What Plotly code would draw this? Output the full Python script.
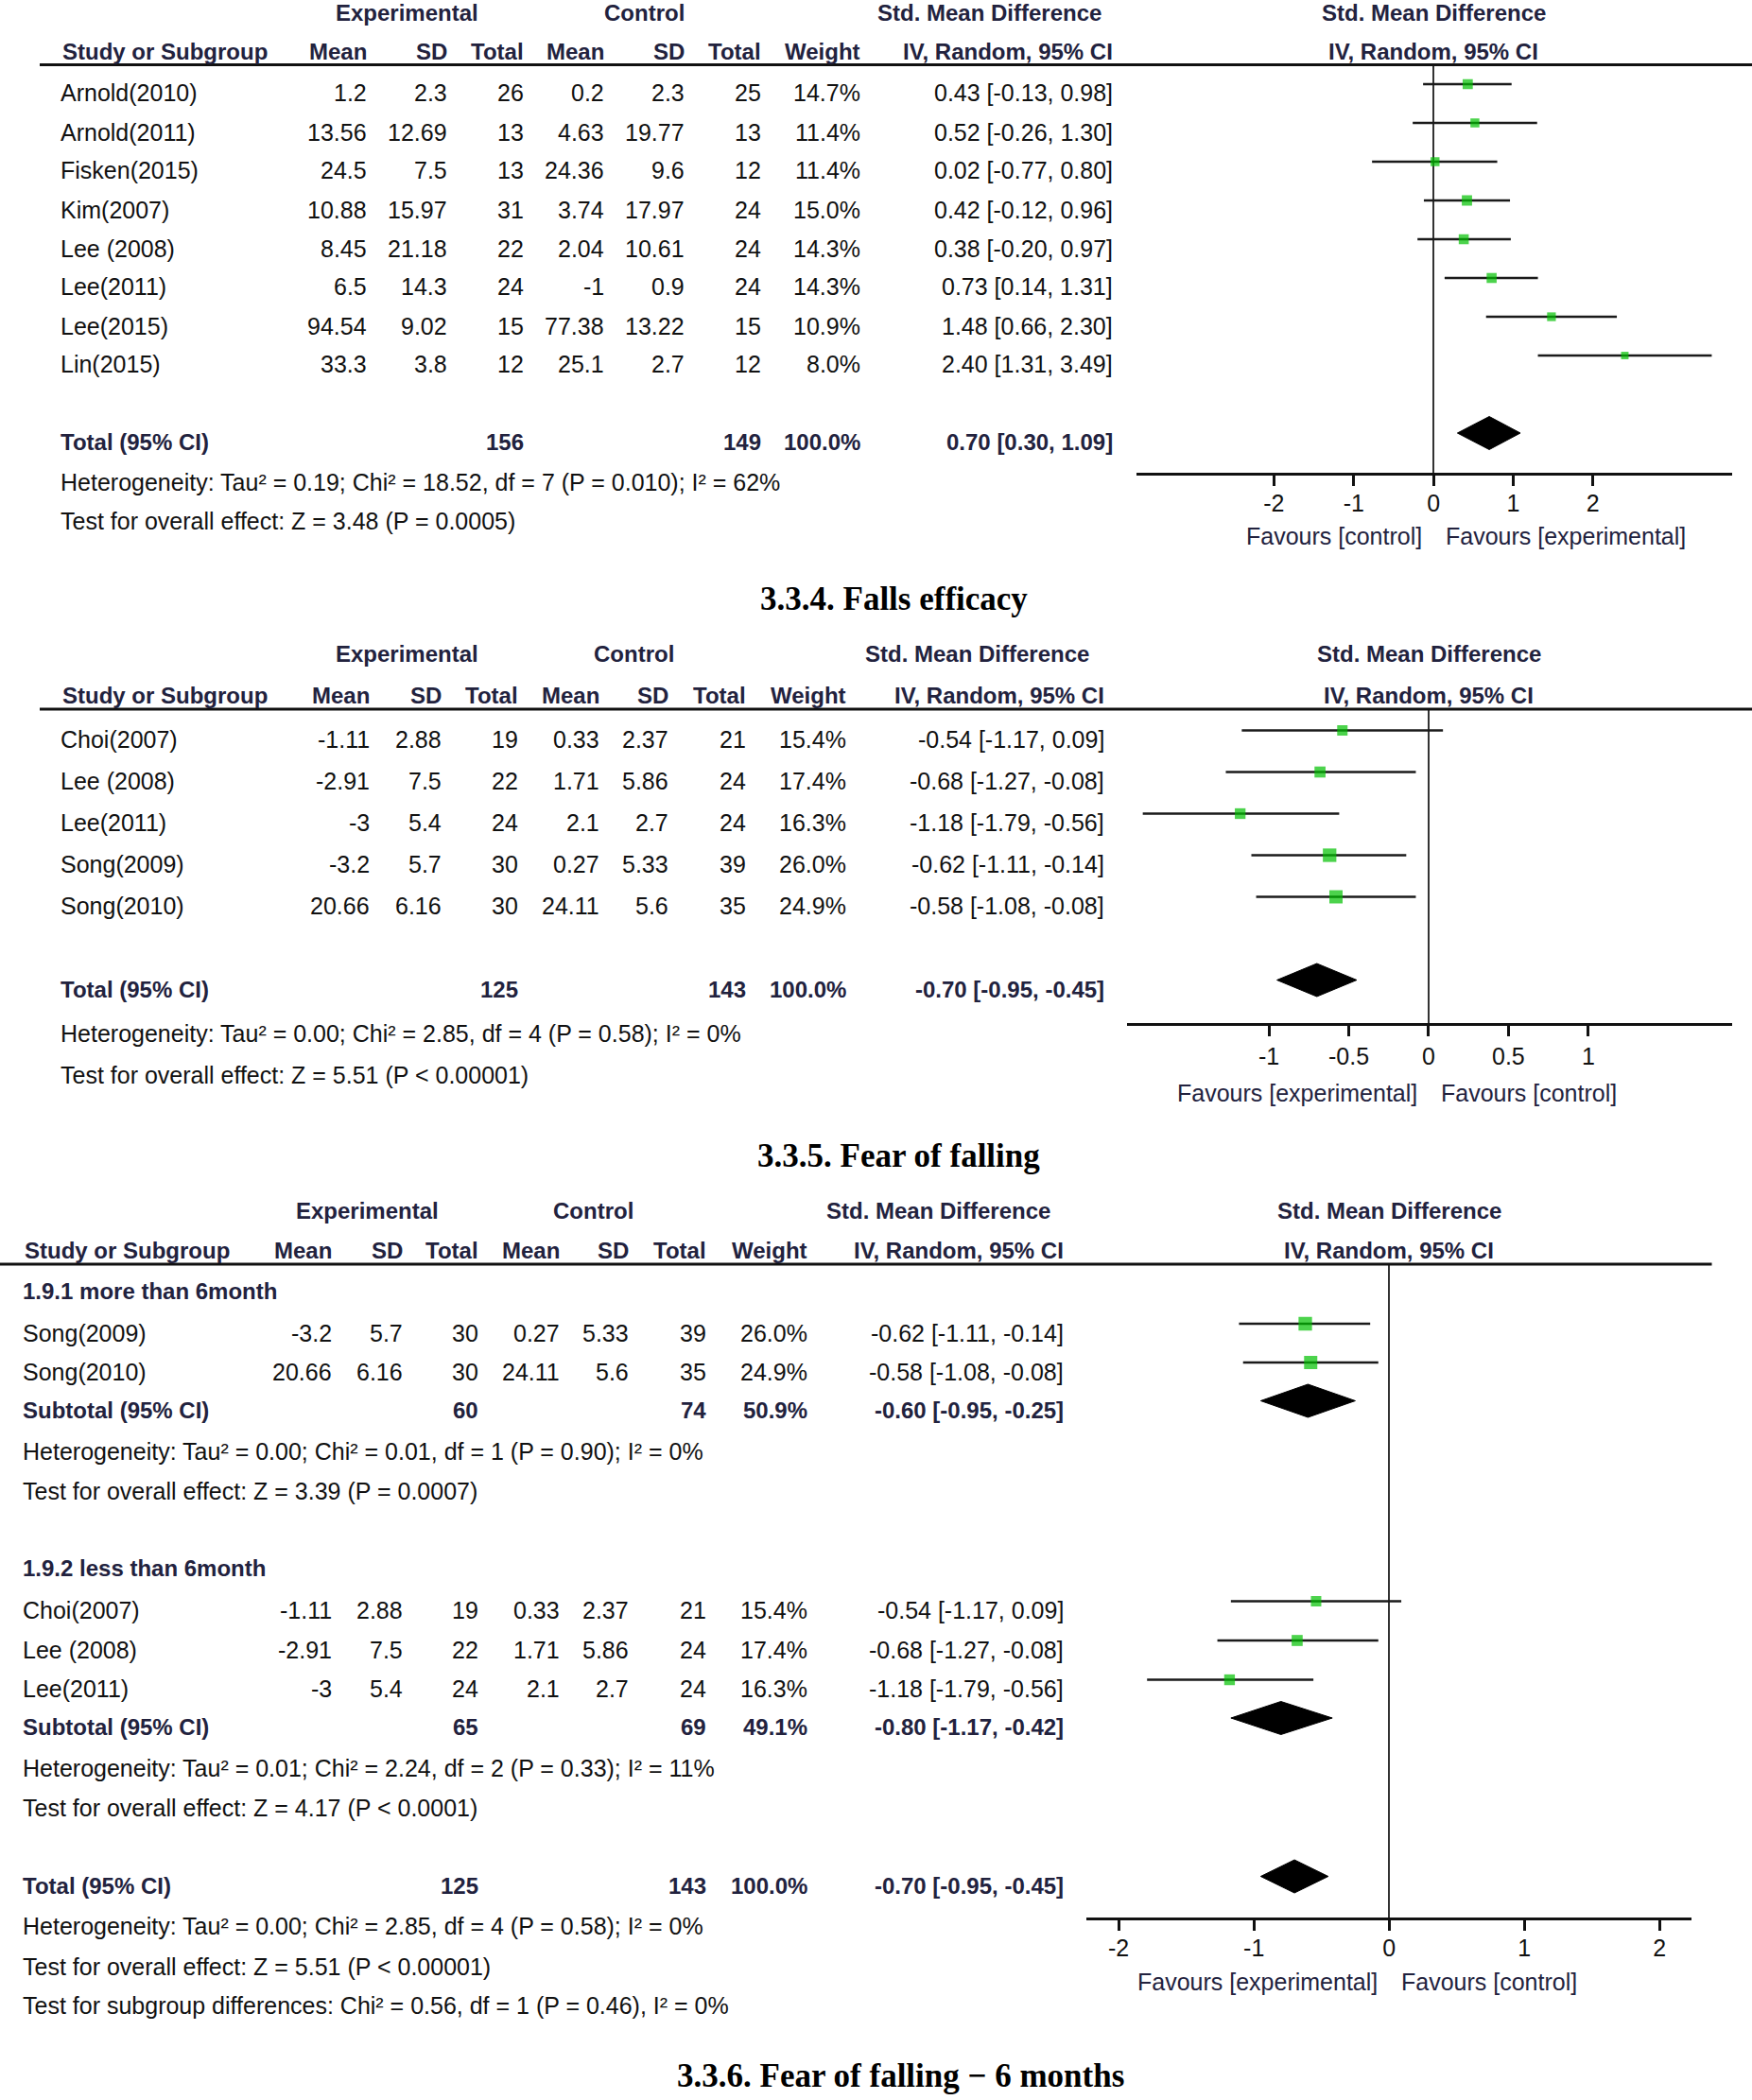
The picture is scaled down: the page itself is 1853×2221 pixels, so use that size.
import math
import plotly.graph_objects as go

# ---------------- data ----------------
# Panel 1 (falls efficacy outcome, top)
p1_study = ["Arnold(2010)", "Arnold(2011)", "Fisken(2015)", "Kim(2007)", "Lee (2008)", "Lee(2011)", "Lee(2015)", "Lin(2015)"]
p1_exp_mean = [1.2, 13.56, 24.5, 10.88, 8.45, 6.5, 94.54, 33.3]
p1_exp_sd = [2.3, 12.69, 7.5, 15.97, 21.18, 14.3, 9.02, 3.8]
p1_exp_n = [26, 13, 13, 31, 22, 24, 15, 12]
p1_ctl_mean = [0.2, 4.63, 24.36, 3.74, 2.04, -1, 77.38, 25.1]
p1_ctl_sd = [2.3, 19.77, 9.6, 17.97, 10.61, 0.9, 13.22, 2.7]
p1_ctl_n = [25, 13, 12, 24, 24, 24, 15, 12]
p1_weight = [14.7, 11.4, 11.4, 15.0, 14.3, 14.3, 10.9, 8.0]
p1_smd = [0.43, 0.52, 0.02, 0.42, 0.38, 0.73, 1.48, 2.40]
p1_lo = [-0.13, -0.26, -0.77, -0.12, -0.20, 0.14, 0.66, 1.31]
p1_hi = [0.98, 1.30, 0.80, 0.96, 0.97, 1.31, 2.30, 3.49]
p1_tot_n = [156, 149]
p1_tot_ci = [0.70, 0.30, 1.09]
p1_het = "Heterogeneity: Tau² = 0.19; Chi² = 18.52, df = 7 (P = 0.010); I² = 62%"
p1_test = "Test for overall effect: Z = 3.48 (P = 0.0005)"
p1_ticks = [-2, -1, 0, 1, 2]
p1_favours = ["Favours [control]", "Favours [experimental]"]
p1_title = "3.3.4. Falls efficacy"

# Panel 2 (fear of falling)
p2_study = ["Choi(2007)", "Lee (2008)", "Lee(2011)", "Song(2009)", "Song(2010)"]
p2_exp_mean = [-1.11, -2.91, -3, -3.2, 20.66]
p2_exp_sd = [2.88, 7.5, 5.4, 5.7, 6.16]
p2_exp_n = [19, 22, 24, 30, 30]
p2_ctl_mean = [0.33, 1.71, 2.1, 0.27, 24.11]
p2_ctl_sd = [2.37, 5.86, 2.7, 5.33, 5.6]
p2_ctl_n = [21, 24, 24, 39, 35]
p2_weight = [15.4, 17.4, 16.3, 26.0, 24.9]
p2_smd = [-0.54, -0.68, -1.18, -0.62, -0.58]
p2_lo = [-1.17, -1.27, -1.79, -1.11, -1.08]
p2_hi = [0.09, -0.08, -0.56, -0.14, -0.08]
p2_tot_n = [125, 143]
p2_tot_ci = [-0.70, -0.95, -0.45]
p2_het = "Heterogeneity: Tau² = 0.00; Chi² = 2.85, df = 4 (P = 0.58); I² = 0%"
p2_test = "Test for overall effect: Z = 5.51 (P < 0.00001)"
p2_ticks = [-1, -0.5, 0, 0.5, 1]
p2_favours = ["Favours [experimental]", "Favours [control]"]
p2_title = "3.3.5. Fear of falling"

# Panel 3 (fear of falling by duration subgroup)
p3_g1_label = "1.9.1 more than 6month"
p3_g1_study = ["Song(2009)", "Song(2010)"]
p3_g1_exp_mean = [-3.2, 20.66]
p3_g1_exp_sd = [5.7, 6.16]
p3_g1_exp_n = [30, 30]
p3_g1_ctl_mean = [0.27, 24.11]
p3_g1_ctl_sd = [5.33, 5.6]
p3_g1_ctl_n = [39, 35]
p3_g1_weight = [26.0, 24.9]
p3_g1_smd = [-0.62, -0.58]
p3_g1_lo = [-1.11, -1.08]
p3_g1_hi = [-0.14, -0.08]
p3_g1_sub_n = [60, 74]
p3_g1_sub_w = 50.9
p3_g1_sub_ci = [-0.60, -0.95, -0.25]
p3_g1_het = "Heterogeneity: Tau² = 0.00; Chi² = 0.01, df = 1 (P = 0.90); I² = 0%"
p3_g1_test = "Test for overall effect: Z = 3.39 (P = 0.0007)"

p3_g2_label = "1.9.2 less than 6month"
p3_g2_study = ["Choi(2007)", "Lee (2008)", "Lee(2011)"]
p3_g2_exp_mean = [-1.11, -2.91, -3]
p3_g2_exp_sd = [2.88, 7.5, 5.4]
p3_g2_exp_n = [19, 22, 24]
p3_g2_ctl_mean = [0.33, 1.71, 2.1]
p3_g2_ctl_sd = [2.37, 5.86, 2.7]
p3_g2_ctl_n = [21, 24, 24]
p3_g2_weight = [15.4, 17.4, 16.3]
p3_g2_smd = [-0.54, -0.68, -1.18]
p3_g2_lo = [-1.17, -1.27, -1.79]
p3_g2_hi = [0.09, -0.08, -0.56]
p3_g2_sub_n = [65, 69]
p3_g2_sub_w = 49.1
p3_g2_sub_ci = [-0.80, -1.17, -0.42]
p3_g2_het = "Heterogeneity: Tau² = 0.01; Chi² = 2.24, df = 2 (P = 0.33); I² = 11%"
p3_g2_test = "Test for overall effect: Z = 4.17 (P < 0.0001)"

p3_tot_n = [125, 143]
p3_tot_ci = [-0.70, -0.95, -0.45]
p3_het = "Heterogeneity: Tau² = 0.00; Chi² = 2.85, df = 4 (P = 0.58); I² = 0%"
p3_test = "Test for overall effect: Z = 5.51 (P < 0.00001)"
p3_subdiff = "Test for subgroup differences: Chi² = 0.56, df = 1 (P = 0.46), I² = 0%"
p3_ticks = [-2, -1, 0, 1, 2]
p3_favours = ["Favours [experimental]", "Favours [control]"]
p3_title = "3.3.6. Fear of falling − 6 months"

col_headers = ["Mean", "SD", "Total", "Mean", "SD", "Total", "Weight", "IV, Random, 95% CI"]
group_headers = ["Experimental", "Control", "Std. Mean Difference"]

# ---------------- styling / layout ----------------
W, H = 1853, 2221
SANS = "Liberation Sans, Arial, sans-serif"
SERIF = "Liberation Serif, Times New Roman, serif"
NAVY = "#22223e"
INK = "#111111"
GREEN = "#00c000"
BODY = 25
MARK_UP = 9.5      # forest marks sit slightly above the text centre line
DIAMOND_H = 17.5   # half height of summary diamonds (px)


def X(px):
    return px / W


def Y(px):
    return 1 - px / H


def g(v):
    return f"{v:g}"


def ci_txt(c):
    return f"{c[0]:.2f} [{c[1]:.2f}, {c[2]:.2f}]"


annotations = []
shapes = []
fig = go.Figure()


def txt(s, xpx, ypx, anchor="right", size=BODY, color=INK, bold=False, family=SANS):
    annotations.append(dict(text=s, x=X(xpx), y=Y(ypx), xref="paper", yref="paper",
                            xanchor=anchor, yanchor="middle", showarrow=False, borderpad=0,
                            font=dict(family=family, size=size, color=color,
                                      weight=700 if bold else 400)))


def headers(P):
    for name, cx in zip(group_headers, P["grp"]):
        txt(name, cx, P["h1"], anchor="center", size=24, color=NAVY, bold=True)
    txt("Study or Subgroup", P["study_x"] + 2, P["h2"], anchor="left", size=24, color=NAVY, bold=True)
    for name, cx in zip(col_headers, P["cols"]):
        txt(name, cx, P["h2"], size=24, color=NAVY, bold=True)
    # forest header, centred on the zero line
    txt("Std. Mean Difference", P["zero_px"], P["h1"], anchor="center", size=24, color=NAVY, bold=True)
    txt("IV, Random, 95% CI", P["zero_px"], P["h2"], anchor="center", size=24, color=NAVY, bold=True)
    shapes.append(dict(type="line", xref="paper", yref="paper", x0=X(P["line_x"][0]), x1=X(P["line_x"][1]),
                       y0=Y(P["hline"]), y1=Y(P["hline"]), line=dict(color=INK, width=3)))


def study_rows(P, ys, study, em, es, en, cm, cs, cn, w, smd, lo, hi):
    c = P["cols"]
    for i, y in enumerate(ys):
        txt(study[i], P["study_x"], y, anchor="left")
        vals = [g(em[i]), g(es[i]), str(en[i]), g(cm[i]), g(cs[i]), str(cn[i]),
                f"{w[i]:.1f}%", ci_txt([smd[i], lo[i], hi[i]])]
        for v, cx in zip(vals, c):
            txt(v, cx, y)


def total_row(P, y, label, n, wt, ci):
    c = P["cols"]
    txt(label, P["study_x"], y, anchor="left", size=24, color=NAVY, bold=True)
    txt(str(n[0]), c[2], y, size=24, color=NAVY, bold=True)
    txt(str(n[1]), c[5], y, size=24, color=NAVY, bold=True)
    txt(f"{wt:.1f}%", c[6], y, size=24, color=NAVY, bold=True)
    txt(ci_txt(ci), c[7], y, size=24, color=NAVY, bold=True)


def forest(k, P, ys, smd, lo, hi, w, diamonds, ticks, favours):
    xa, ya = ("x" if k == 1 else f"x{k}"), ("y" if k == 1 else f"y{k}")
    ym = [y - MARK_UP for y in ys]
    lx, ly = [], []
    for a, b, y in zip(lo, hi, ym):
        lx += [a, b, None]
        ly += [y, y, None]
    fig.add_trace(go.Scatter(x=lx, y=ly, mode="lines", line=dict(color="#1a1a1a", width=2.5),
                             xaxis=xa, yaxis=ya, hoverinfo="skip"))
    fig.add_trace(go.Scatter(x=smd, y=ym, mode="markers",
                             marker=dict(symbol="square", color=GREEN, size=[2.8 * math.sqrt(v) for v in w],
                                         line=dict(width=0)),
                             xaxis=xa, yaxis=ya, hoverinfo="skip"))
    for y, c in diamonds:
        yd = y - MARK_UP
        fig.add_trace(go.Scatter(x=[c[1], c[0], c[2], c[0], c[1]],
                                 y=[yd, yd - DIAMOND_H, yd, yd + DIAMOND_H, yd],
                                 mode="lines", fill="toself", fillcolor="black",
                                 line=dict(color="black", width=1), xaxis=xa, yaxis=ya, hoverinfo="skip"))
    common = dict(range=P["xrange"], tickvals=ticks, anchor=ya, showgrid=False, fixedrange=True)
    fig.layout[f"xaxis{'' if k == 1 else k}"] = dict(
        domain=[X(P["xdom"][0]), X(P["xdom"][1])], showline=True, linecolor=INK, linewidth=3,
        ticks="outside", ticklen=11, tickwidth=2.5, tickcolor=INK, ticklabelstandoff=P["standoff"],
        ticktext=[g(t) for t in ticks], tickfont=dict(family=SANS, size=25, color=INK),
        zeroline=True, zerolinecolor="#333333", zerolinewidth=2, **common)
    fig.layout[f"xaxis{k + 3}"] = dict(overlaying=xa, ticks="inside", ticklen=11, tickwidth=2.5,
                                       tickcolor=INK, showticklabels=False, showline=False,
                                       zeroline=False, **common)
    fig.layout[f"yaxis{'' if k == 1 else k}"] = dict(domain=[Y(P["axis"]), Y(P["hline"])],
                                                    range=[P["axis"], P["hline"]], visible=False,
                                                    fixedrange=True)
    annotations.append(dict(text=favours[0], x=0, xref=xa, xshift=-10, xanchor="right",
                            y=Y(P["fav"]), yref="paper", yanchor="middle", showarrow=False,
                            font=dict(family=SANS, size=25, color=NAVY)))
    annotations.append(dict(text=favours[1], x=0, xref=xa, xshift=11, xanchor="left",
                            y=Y(P["fav"]), yref="paper", yanchor="middle", showarrow=False,
                            font=dict(family=SANS, size=25, color=NAVY)))


# ---------- panel 1 ----------
P1 = dict(grp=[430, 681, 1046.7], cols=[388.7, 474.4, 554.7, 639.6, 725.3, 805.7, 910.5, 1178.3],
          study_x=62.7, h1=14, h2=54, hline=68.5, line_x=[42, W], zero_px=1516,
          axis=500, fav=567, xdom=[1201.5, 1831.5], xrange=[-3.73, 3.74], standoff=-3)
p1_rows = [98.5 + 41 * i for i in range(len(p1_study))]
p1_total_y, p1_het_y, p1_test_y = 467.5, 509.5, 550.5
headers(P1)
study_rows(P1, p1_rows, p1_study, p1_exp_mean, p1_exp_sd, p1_exp_n, p1_ctl_mean, p1_ctl_sd, p1_ctl_n,
           p1_weight, p1_smd, p1_lo, p1_hi)
total_row(P1, p1_total_y, "Total (95% CI)", p1_tot_n, 100.0, p1_tot_ci)
txt(p1_het, P1["study_x"], p1_het_y, anchor="left")
txt(p1_test, P1["study_x"], p1_test_y, anchor="left")
forest(1, P1, p1_rows, p1_smd, p1_lo, p1_hi, p1_weight, [(p1_total_y, p1_tot_ci)], p1_ticks, p1_favours)
txt(p1_title, 945.5, 633, anchor="center", size=35, color="black", bold=True, family=SERIF)

# ---------- panel 2 ----------
P2 = dict(grp=[430, 670, 1033], cols=[391.7, 468, 549, 635, 707.7, 790, 895.5, 1168.5],
          study_x=62.7, h1=691.5, h2=735.5, hline=750, line_x=[42, W], zero_px=1511,
          axis=1082, fav=1155.6, xdom=[1191.6, 1831.5], xrange=[-1.891, 1.898], standoff=0)
p2_rows = [782 + 44 * i for i in range(len(p2_study))]
p2_total_y, p2_het_y, p2_test_y = 1046, 1093, 1137.5
headers(P2)
study_rows(P2, p2_rows, p2_study, p2_exp_mean, p2_exp_sd, p2_exp_n, p2_ctl_mean, p2_ctl_sd, p2_ctl_n,
           p2_weight, p2_smd, p2_lo, p2_hi)
total_row(P2, p2_total_y, "Total (95% CI)", p2_tot_n, 100.0, p2_tot_ci)
txt(p2_het, P2["study_x"], p2_het_y, anchor="left")
txt(p2_test, P2["study_x"], p2_test_y, anchor="left")
forest(2, P2, p2_rows, p2_smd, p2_lo, p2_hi, p2_weight, [(p2_total_y, p2_tot_ci)], p2_ticks, p2_favours)
txt(p2_title, 950, 1222.5, anchor="center", size=35, color="black", bold=True, family=SERIF)

# ---------- panel 3 ----------
P3 = dict(grp=[388, 627.4, 992.3], cols=[352, 426.5, 506.5, 593, 665.6, 747.5, 854.6, 1126],
          study_x=23, h1=1280, h2=1322, hline=1337, line_x=[0, 1810.5], zero_px=1469.2,
          axis=2027.5, fav=2096, xdom=[1149.4, 1789], xrange=[-2.236, 2.236], standoff=-3)
g1_label_y, g1_rows, g1_sub_y, g1_het_y, g1_test_y = 1365, [1409.5, 1450.5], 1491, 1534.5, 1576.5
g2_label_y, g2_rows, g2_sub_y, g2_het_y, g2_test_y = 1658, [1703, 1744.5, 1786], 1826.5, 1869.5, 1912
p3_total_y, p3_het_y, p3_test_y, p3_sub_y = 1994, 2037.5, 2079.5, 2121
headers(P3)
txt(p3_g1_label, P3["study_x"], g1_label_y, anchor="left", size=24, color=NAVY, bold=True)
study_rows(P3, g1_rows, p3_g1_study, p3_g1_exp_mean, p3_g1_exp_sd, p3_g1_exp_n, p3_g1_ctl_mean,
           p3_g1_ctl_sd, p3_g1_ctl_n, p3_g1_weight, p3_g1_smd, p3_g1_lo, p3_g1_hi)
total_row(P3, g1_sub_y, "Subtotal (95% CI)", p3_g1_sub_n, p3_g1_sub_w, p3_g1_sub_ci)
txt(p3_g1_het, P3["study_x"], g1_het_y, anchor="left")
txt(p3_g1_test, P3["study_x"], g1_test_y, anchor="left")
txt(p3_g2_label, P3["study_x"], g2_label_y, anchor="left", size=24, color=NAVY, bold=True)
study_rows(P3, g2_rows, p3_g2_study, p3_g2_exp_mean, p3_g2_exp_sd, p3_g2_exp_n, p3_g2_ctl_mean,
           p3_g2_ctl_sd, p3_g2_ctl_n, p3_g2_weight, p3_g2_smd, p3_g2_lo, p3_g2_hi)
total_row(P3, g2_sub_y, "Subtotal (95% CI)", p3_g2_sub_n, p3_g2_sub_w, p3_g2_sub_ci)
txt(p3_g2_het, P3["study_x"], g2_het_y, anchor="left")
txt(p3_g2_test, P3["study_x"], g2_test_y, anchor="left")
total_row(P3, p3_total_y, "Total (95% CI)", p3_tot_n, 100.0, p3_tot_ci)
txt(p3_het, P3["study_x"], p3_het_y, anchor="left")
txt(p3_test, P3["study_x"], p3_test_y, anchor="left")
txt(p3_subdiff, P3["study_x"], p3_sub_y, anchor="left")
forest(3, P3, g1_rows + g2_rows, p3_g1_smd + p3_g2_smd, p3_g1_lo + p3_g2_lo, p3_g1_hi + p3_g2_hi,
       p3_g1_weight + p3_g2_weight,
       [(g1_sub_y, p3_g1_sub_ci), (g2_sub_y, p3_g2_sub_ci), (p3_total_y, p3_tot_ci)],
       p3_ticks, p3_favours)
txt(p3_title, 952, 2195, anchor="center", size=35, color="black", bold=True, family=SERIF)

fig.update_layout(width=W, height=H, margin=dict(l=0, r=0, t=0, b=0), paper_bgcolor="white",
                  plot_bgcolor="rgba(0,0,0,0)", showlegend=False, annotations=annotations, shapes=shapes)
fig.write_html("out.html", config={"displayModeBar": False},
               post_script="document.body.style.margin='0';")
